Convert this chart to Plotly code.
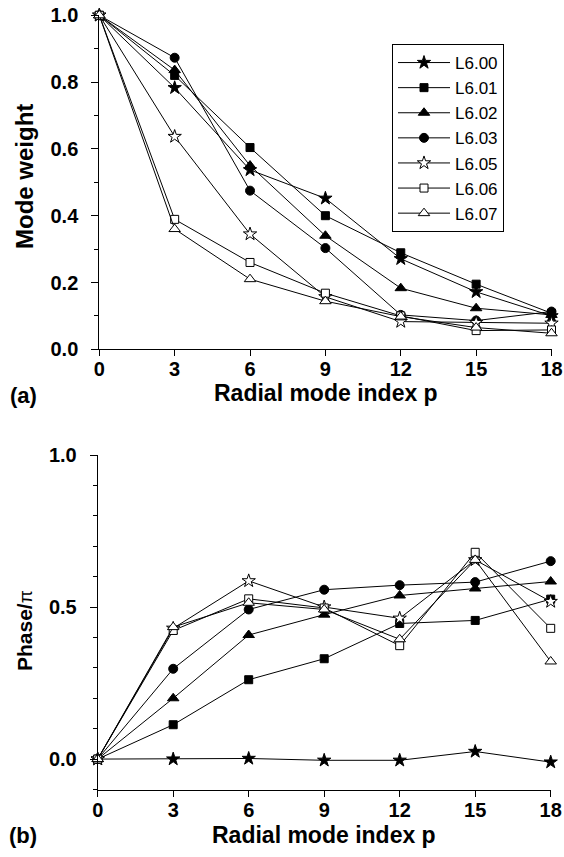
import plotly.graph_objects as go

p = [0, 3, 6, 9, 12, 15, 18]
names = ["L6.00", "L6.01", "L6.02", "L6.03", "L6.05", "L6.06", "L6.07"]

# (a) Mode weight
w_600 = [1.0, 0.783, 0.537, 0.452, 0.271, 0.172, 0.100]
w_601 = [1.0, 0.820, 0.604, 0.400, 0.289, 0.195, 0.108]
w_602 = [1.0, 0.836, 0.550, 0.340, 0.183, 0.123, 0.103]
w_603 = [1.0, 0.873, 0.475, 0.303, 0.103, 0.086, 0.113]
w_605 = [1.0, 0.637, 0.345, 0.157, 0.083, 0.080, 0.078]
w_606 = [1.0, 0.389, 0.260, 0.168, 0.100, 0.056, 0.058]
w_607 = [1.0, 0.360, 0.210, 0.144, 0.098, 0.065, 0.048]

# (b) Phase / pi
ph_600 = [0.0, 0.000, 0.002, -0.004, -0.004, 0.025, -0.010]
ph_601 = [0.0, 0.113, 0.261, 0.330, 0.446, 0.456, 0.526]
ph_602 = [0.0, 0.200, 0.408, 0.475, 0.538, 0.561, 0.584]
ph_603 = [0.0, 0.297, 0.492, 0.557, 0.572, 0.582, 0.651]
ph_605 = [0.0, 0.430, 0.586, 0.500, 0.463, 0.655, 0.518]
ph_606 = [0.0, 0.423, 0.527, 0.497, 0.373, 0.680, 0.430]
ph_607 = [0.0, 0.434, 0.514, 0.492, 0.394, 0.655, 0.321]

weights = [w_600, w_601, w_602, w_603, w_605, w_606, w_607]
phases = [ph_600, ph_601, ph_602, ph_603, ph_605, ph_606, ph_607]

symbols = ["star", "square", "triangle-up", "circle", "star", "square", "triangle-up"]
fills = ["black", "black", "black", "black", "white", "white", "white"]
sizes = [10, 8, 10, 9, 10, 8, 10]

W, H = 564, 857
FONT = "Liberation Sans, Arial, Helvetica, sans-serif"

fig = go.Figure()

for i, n in enumerate(names):
    mk = dict(symbol=symbols[i], size=sizes[i], color=fills[i],
              line=dict(color="black", width=1))
    fig.add_trace(go.Scatter(x=p, y=weights[i], name=n, mode="lines+markers",
                             line=dict(color="black", width=1), marker=mk,
                             cliponaxis=False, xaxis="x", yaxis="y"))
for i, n in enumerate(names):
    mk = dict(symbol=symbols[i], size=sizes[i], color=fills[i],
              line=dict(color="black", width=1))
    fig.add_trace(go.Scatter(x=p, y=phases[i], name=n, mode="lines+markers",
                             line=dict(color="black", width=1), marker=mk,
                             cliponaxis=False, showlegend=False,
                             xaxis="x2", yaxis="y2"))

def px_x(v):
    return v / W

def px_y(v):
    return 1 - v / H

tickfont = dict(family=FONT, size=20, color="black", weight="bold")
common_x = dict(range=[0, 18], tickvals=p, ticktext=[str(v) for v in p],
                showline=True, linecolor="black", linewidth=1,
                ticks="outside", ticklen=6, tickwidth=1, tickcolor="black",
                showgrid=False, zeroline=False, tickfont=tickfont,
                automargin=False, ticklabelstandoff=-4, fixedrange=True)
common_y = dict(showline=True, linecolor="black", linewidth=1,
                ticks="outside", ticklen=7, tickwidth=1, tickcolor="black",
                minor=dict(dtick=0.1, tick0=0, ticks="outside", ticklen=4,
                           tickcolor="black", showgrid=False),
                showgrid=False, zeroline=False, tickfont=tickfont,
                automargin=False, ticklabelstandoff=9, fixedrange=True)

fig.update_layout(
    width=W, height=H,
    margin=dict(l=0, r=0, t=0, b=0, autoexpand=False),
    paper_bgcolor="white", plot_bgcolor="white",
    font=dict(family=FONT, color="black"),
    xaxis=dict(domain=[px_x(99.3), px_x(551.5)], anchor="y", **common_x),
    yaxis=dict(domain=[px_y(349.3), px_y(15.3)], anchor="x", range=[0, 1.0],
               tick0=0, dtick=0.2, tickformat=".1f", **common_y),
    xaxis2=dict(domain=[px_x(97.7), px_x(550.7)], anchor="y2", **common_x),
    yaxis2=dict(domain=[px_y(789.5), px_y(455)], anchor="x2", range=[-0.1, 1.0],
                tickvals=[0, 0.5, 1.0], ticktext=["0.0", "0.5", "1.0"], **common_y),
    legend=dict(x=px_x(392), y=px_y(44), xanchor="left", yanchor="top",
                bordercolor="black", borderwidth=1, bgcolor="white",
                font=dict(family=FONT, size=17, color="black"),
                itemwidth=52, tracegroupgap=0),
    showlegend=True,
)

ann = [
    dict(text="<b>Radial mode index p</b>", x=px_x(326), y=px_y(393), size=23),
    dict(text="<b>(a)</b>", x=px_x(23), y=px_y(396), size=22),
    dict(text="<b>Radial mode index p</b>", x=px_x(324), y=px_y(835), size=23),
    dict(text="<b>(b)</b>", x=px_x(23), y=px_y(835), size=22),
    dict(text="<b>Mode weight</b>", x=px_x(24), y=px_y(177), size=24, angle=-90),
    dict(text="<b>Phase/</b><span style='font-size:19px'>π</span>",
         x=px_x(24), y=px_y(631), size=21, angle=-90),
]
for a in ann:
    fig.add_annotation(xref="paper", yref="paper", showarrow=False,
                       xanchor="center", yanchor="middle",
                       font=dict(family=FONT, size=a["size"], color="black"),
                       text=a["text"], x=a["x"], y=a["y"],
                       textangle=a.get("angle", 0))

fig.write_html("out.html", config={"displayModeBar": False},
               post_script="document.body.style.margin='0';document.body.style.padding='0';")
